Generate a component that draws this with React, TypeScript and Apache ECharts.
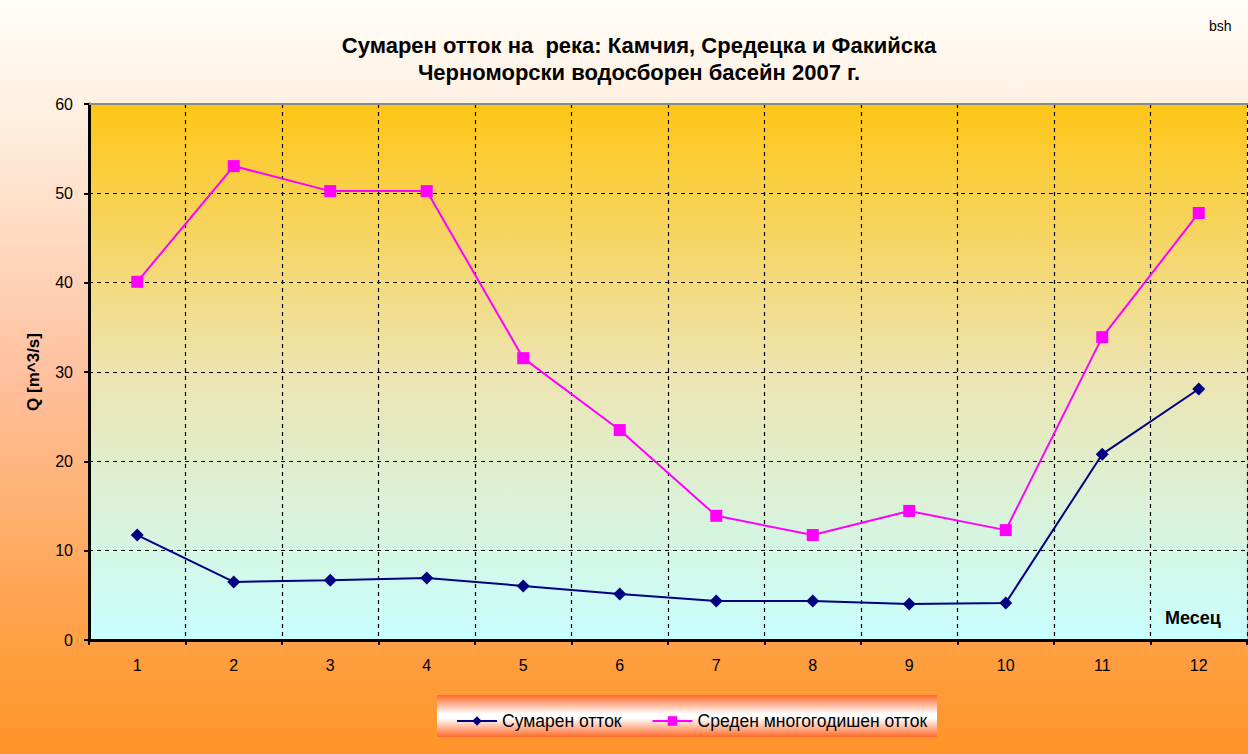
import React, { useEffect, useRef } from "react";
import * as echarts from "echarts";

const months = ["1", "2", "3", "4", "5", "6", "7", "8", "9", "10", "11", "12"];
const sumaren = [11.75, 6.5, 6.7, 6.95, 6.05, 5.15, 4.37, 4.37, 4.03, 4.14, 20.8, 28.1];
const sreden = [40.1, 53.05, 50.25, 50.25, 31.55, 23.5, 13.9, 11.75, 14.45, 12.3, 33.9, 47.8];
const seriesNames = ["Сумарен отток", "Среден многогодишен отток"];
const titleLines = ["Сумарен отток на  река: Камчия, Средецка и Факийска", "Черноморски водосборен басейн 2007 г."];

export default function App() {
  const ref = useRef<HTMLDivElement>(null);
  useEffect(() => {
    const chart = echarts.init(ref.current!, null, { renderer: "svg" });
    const font = "Arial, 'Liberation Sans', sans-serif";
    chart.setOption({
      animation: false,
      backgroundColor: new echarts.graphic.LinearGradient(0, 0, 0, 1, [
        { offset: 0, color: "#fffdf8" },
        { offset: 0.15, color: "#fff0e0" },
        { offset: 0.5, color: "#ffc09e" },
        { offset: 0.85, color: "#ffa044" },
        { offset: 1, color: "#ff9428" },
      ]),
      title: {
        text: titleLines.join("\n"),
        left: 634,
        top: 27,
        textAlign: "center",
        textStyle: { fontFamily: font, fontSize: 22, fontWeight: "bold", color: "#000", lineHeight: 27 },
      },
      graphic: [
        { type: "text", left: 1209, top: 19, style: { text: "bsh", font: `14px ${font}`, fill: "#000" } },
        {
          type: "rect",
          shape: { x: 437, y: 695, width: 500, height: 42 },
          style: {
            fill: new echarts.graphic.LinearGradient(0, 0, 0, 1, [
              { offset: 0, color: "#ff6a2a" },
              { offset: 0.45, color: "#ffffff" },
              { offset: 0.55, color: "#ffffff" },
              { offset: 1, color: "#ff6a2a" },
            ]),
          },
          z: 0,
        },
        { type: "line", shape: { x1: 89, y1: 104, x2: 1248, y2: 104 }, style: { stroke: "#8a8a8a", lineWidth: 2 }, z: 1 },
        { type: "text", left: 1165, top: 609, style: { text: "Месец", font: `bold 18px ${font}`, fill: "#000" }, z: 10 },
      ],
      legend: {
        data: seriesNames,
        left: 451,
        top: 707,
        itemWidth: 40,
        itemHeight: 12,
        itemGap: 30,
        textStyle: { fontFamily: font, fontSize: 17.5, color: "#000" },
      },
      grid: {
        left: 89,
        right: 1,
        top: 104,
        bottom: 114,
        containLabel: false,
        show: true,
        borderWidth: 0,
        backgroundColor: new echarts.graphic.LinearGradient(0, 0, 0, 1, [
          { offset: 0, color: "#ffc617" },
          { offset: 0.5, color: "#ede4b0" },
          { offset: 1, color: "#c8ffff" },
        ]),
      },
      xAxis: {
        type: "category",
        data: months,
        boundaryGap: true,
        axisLine: { lineStyle: { color: "#000", width: 3 } },
        axisTick: { show: true, length: 5, lineStyle: { color: "#000", width: 2 } },
        axisLabel: { fontFamily: font, fontSize: 16, color: "#000", margin: 17 },
        splitLine: { show: true, lineStyle: { color: "#000", type: [4, 4], width: 1.2 } },
      },
      yAxis: {
        type: "value",
        min: 0,
        max: 60,
        interval: 10,
        name: "Q [m^3/s]",
        nameLocation: "middle",
        nameGap: 47,
        nameRotate: 90,
        nameTextStyle: { fontFamily: font, fontSize: 17, fontWeight: "bold", color: "#000" },
        axisLine: { show: true, lineStyle: { color: "#000", width: 3 } },
        axisTick: { show: true, length: 5, lineStyle: { color: "#000", width: 2 } },
        axisLabel: { fontFamily: font, fontSize: 16, color: "#000", margin: 16 },
        splitLine: { show: true, lineStyle: { color: "#000", type: [4, 4], width: 1.2 } },
      },
      series: [
        {
          name: seriesNames[0],
          type: "line",
          data: sumaren,
          z: 5,
          symbol: "diamond",
          symbolSize: 13,
          itemStyle: { color: "#000080" },
          lineStyle: { color: "#000080", width: 2 },
        },
        {
          name: seriesNames[1],
          type: "line",
          data: sreden,
          z: 6,
          symbol: "rect",
          symbolSize: 12,
          itemStyle: { color: "#ff00ff" },
          lineStyle: { color: "#ff00ff", width: 2 },
        },
      ],
    });
    return () => chart.dispose();
  }, []);
  return <div ref={ref} style={{ position: "absolute", left: 0, top: 0, width: 1248, height: 754 }} />;
}
